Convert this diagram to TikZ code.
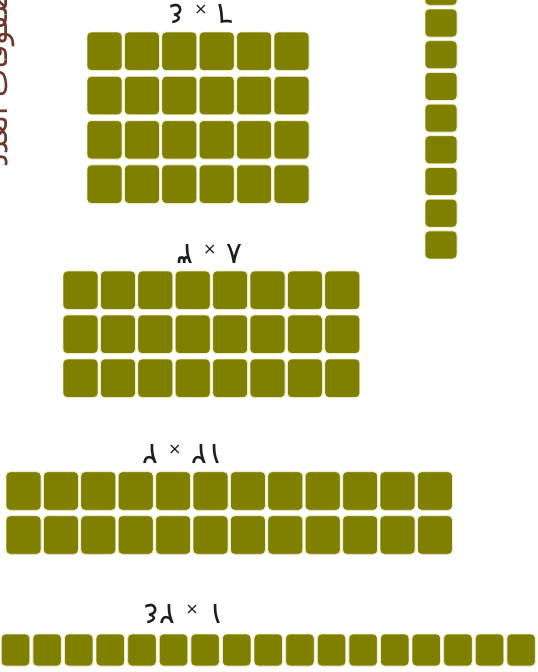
\documentclass[tikz,border=0pt]{standalone}
\usepackage{fontspec}
\newfontfamily\arabicfont[Script=Arabic]{DejaVu Sans}
\TeXXeTstate=1
\definecolor{olivefill}{RGB}{128,128,0}
\definecolor{gapline}{RGB}{240,234,196}
\definecolor{titlebrown}{RGB}{110,55,45}
\definecolor{labelink}{RGB}{30,30,30}
\newcommand\smalltimes{{\fontsize{16}{16}\selectfont ×}}
\tikzset{
  tile/.style={fill=olivefill, draw=gapline, line width=0.8pt, rounded corners=4pt, inner sep=0pt},
  bigtile/.style={tile, minimum width=35pt, minimum height=38.5pt},
  coltile/.style={tile, minimum width=32pt, minimum height=28pt},
  rowtile/.style={tile, minimum width=28.5pt, minimum height=32pt},
  dimlabel/.style={rotate=180, text=labelink, inner sep=0pt, font=\arabicfont\fontsize{30}{30}\selectfont},
  titletext/.style={rotate=90, anchor=base west, text=titlebrown, inner sep=0pt, font=\arabicfont\fontsize{30}{30}\selectfont},
}
\begin{document}
\begin{tikzpicture}[x=1pt,y=-1pt]
\useasboundingbox (0,0) rectangle (538,672);
\clip (0,0) rectangle (538,672);
\fill[white] (0,0) rectangle (538,672);
% title (partly cut off at the left edge, as in the reference)
\node[titletext] (title) at (7,168) {\beginR مصفوفات العدد\endR};
% grid 6 x 4
\foreach \r in {0,...,3} \foreach \c in {0,...,5}
  \node[bigtile] (a-\r-\c) at ({104.5+37.4*\c},{51.25+44.3*\r}) {};
\node[dimlabel] (la) at (201,14) {٦ \smalltimes{} ٤};
% grid 8 x 3
\foreach \r in {0,...,2} \foreach \c in {0,...,7}
  \node[bigtile] (b-\r-\c) at ({80.5+37.4*\c},{290.25+44*\r}) {};
\node[dimlabel] (lb) at (210,254) {٨ \smalltimes{} ٣};
% grid 12 x 2
\foreach \r in {0,...,1} \foreach \c in {0,...,11}
  \node[bigtile] (c-\r-\c) at ({23.5+37.4*\c},{491+44*\r}) {};
\node[dimlabel] (lc) at (183,454) {١٢ \smalltimes{} ٢};
% row 24 x 1
\foreach \c in {0,...,16}
  \node[rowtile] (d-\c) at ({15.5+31.6*\c},650) {};
\node[dimlabel] (ld) at (184,614) {١ \smalltimes{} ٢٤};
% vertical column
\foreach \k in {-2,...,7}
  \node[coltile] (e-\k) at (441,{23+31.7*\k}) {};
\end{tikzpicture}
\end{document}
